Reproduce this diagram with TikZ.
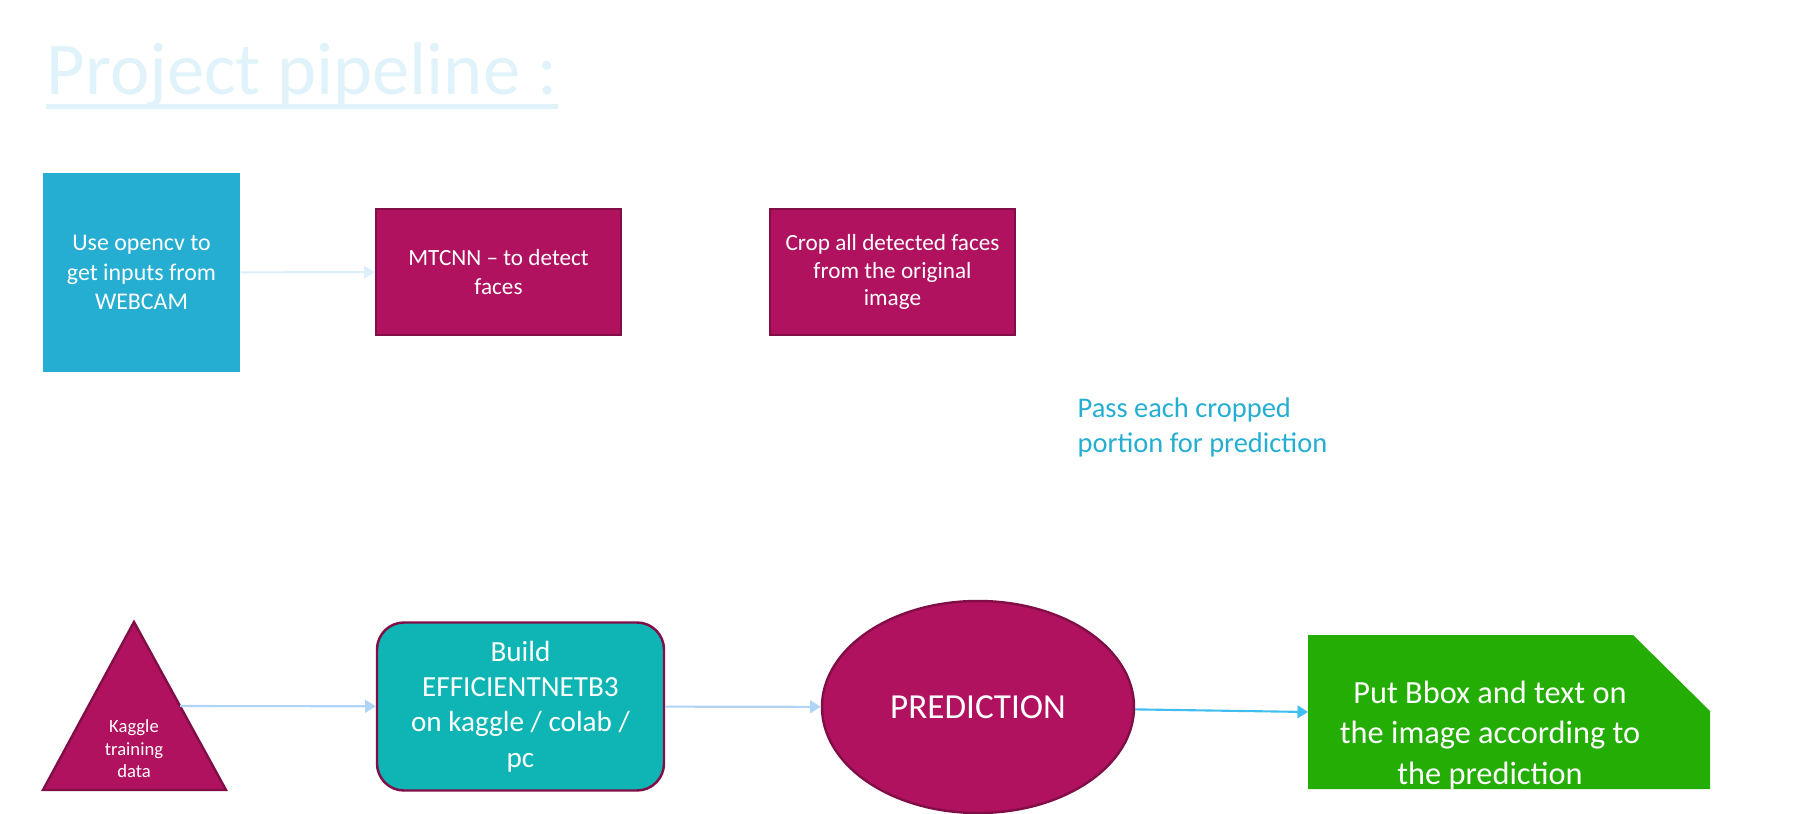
\documentclass[tikz,border=0pt]{standalone}
\usepackage{fontspec}
\setmainfont{Carlito}
\usetikzlibrary{shapes.geometric,arrows.meta}

\definecolor{camblue}{RGB}{37,174,210}
\definecolor{magfill}{RGB}{177,18,96}
\definecolor{magline}{RGB}{130,14,72}
\definecolor{tealfill}{RGB}{14,181,180}
\definecolor{outgreen}{RGB}{36,173,4}
\definecolor{titlecol}{RGB}{224,243,250}
\definecolor{paleline}{RGB}{220,239,248}
\definecolor{lightline}{RGB}{176,212,245}
\definecolor{brightline}{RGB}{64,190,240}

\begin{document}
\begin{tikzpicture}[
    box/.style={draw=magline, line width=0.7pt, fill=magfill, text=white,
        align=center, inner sep=0pt},
    flow/.style={line width=0.6pt, -{Triangle[length=3pt,width=3.6pt]}}
    ]
\useasboundingbox (0,0) rectangle (18.03,-8.14);

% Title
\node [anchor=base west,
    inner sep=0pt,
    text=titlecol,
    font=\fontsize{21.2}{25}\selectfont] (title) at (0.46,-0.94) {Project pipeline :};
\draw [titlecol, line width=1.4pt] ([yshift=-3.6pt]title.base west) -- ([yshift=-3.6pt]title.base east);

% Webcam input
\node [fill=camblue,
    text=white,
    align=center,
    inner sep=0pt,
    minimum width=1.97cm,
    minimum height=1.99cm,
    font=\fontsize{6.8}{8.3}\selectfont] (cam) at (1.415,-2.725) {Use opencv to\\get inputs from\\WEBCAM};

% MTCNN
\node [box,
    minimum width=2.45cm,
    minimum height=1.26cm,
    font=\fontsize{6.6}{8}\selectfont] (mtcnn) at (4.985,-2.72) {MTCNN -- to detect\\faces};

% Crop faces
\node [box,
    minimum width=2.45cm,
    minimum height=1.26cm,
    font=\fontsize{6.6}{7.8}\selectfont] (crop) at (8.925,-2.72) {Crop all detected faces\\from the original\\image};

% Pass label
\node [anchor=north west,
    align=left,
    inner sep=0pt,
    text=camblue,
    font=\fontsize{8.1}{10}\selectfont] (pass) at (10.77,-3.97) {Pass each cropped\\portion for prediction};

% Training data
\filldraw [draw=magline, fill=magfill, line width=0.7pt] (1.34,-6.22) -- (2.26,-7.90) -- (0.43,-7.90) -- cycle;
\node [text=white,
    align=center,
    inner sep=0pt,
    font=\fontsize{5.3}{6.4}\selectfont] (kaggle) at (1.34,-7.49) {Kaggle\\training\\data};
\coordinate (kaggle-out) at (1.80,-7.06);

% Build model
\node [box,
    fill=tealfill,
    rounded corners=0.27cm,
    minimum width=2.87cm,
    minimum height=1.68cm,
    font=\fontsize{8.3}{10}\selectfont] (build) at (5.205,-7.065) {Build\\EFFICIENTNETB3\\on kaggle / colab /\\pc};

% Prediction
\node [box,
    ellipse,
    minimum width=3.12cm,
    minimum height=2.12cm,
    font=\fontsize{10}{12}\selectfont] (pred) at (9.78,-7.07) {PREDICTION};

% Output
\fill [outgreen] (13.08,-6.35) -- (16.33,-6.35) -- (17.10,-7.11) -- (17.10,-7.89) -- (13.08,-7.89) -- cycle;
\node [text=white,
    align=center,
    inner sep=0pt,
    font=\fontsize{9.2}{11.5}\selectfont] (put) at (14.90,-7.35) {Put Bbox and text on\\the image according to\\the prediction};
\coordinate (put-in) at (13.08,-7.12);

% Connectors
\draw [flow, paleline] (cam) -- (mtcnn);
\draw [flow, white] (mtcnn) -- (crop);
\draw [flow, lightline] (kaggle-out) -- (build);
\draw [flow, lightline] (build) -- (pred);
\draw [flow, brightline] (pred) -- (put-in);

\end{tikzpicture}
\end{document}
